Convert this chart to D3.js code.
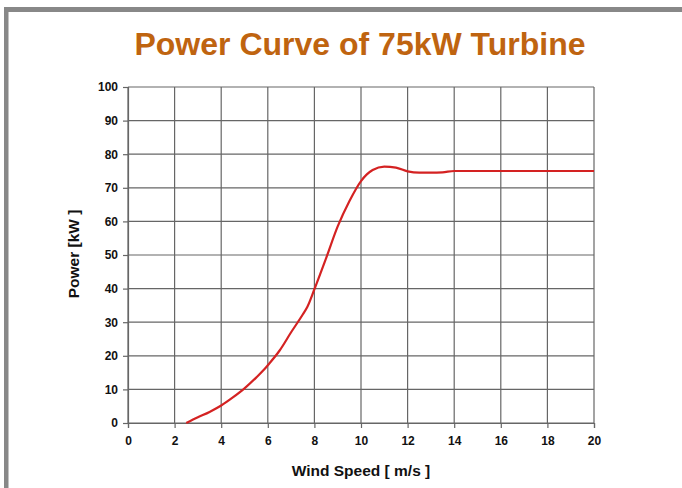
<!DOCTYPE html>
<html><head><meta charset="utf-8">
<script src="https://cdn.jsdelivr.net/npm/d3@7"></script>
<style>
html,body{margin:0;padding:0;background:#fff;}
svg{display:block;}
text{font-family:"Liberation Sans",Arial,sans-serif;}
</style></head>
<body>
<svg id="c" width="682" height="488"></svg>
<script>
const windSpeed = [2.5,3,3.5,4,4.5,5,5.5,5.8,6,6.5,7,7.5,7.7,8,8.5,9,9.5,10,10.25,10.5,11,11.5,12,12.5,13,13.5,14,15,16,17,18,19,20];
const power     = [0,1.7,3.3,5.2,7.6,10.3,13.5,15.6,17.2,21.5,27,32.3,34.6,39.8,49,58.5,66,72,74,75.3,76.3,76,74.9,74.5,74.5,74.6,75,75,75,75,75,75,75];
const xTicks = [0,2,4,6,8,10,12,14,16,18,20];
const yTicks = [0,10,20,30,40,50,60,70,80,90,100];
const title = "Power Curve of 75kW Turbine";
const xLabel = "Wind Speed [ m/s ]";
const yLabel = "Power [kW ]";

const svg = d3.select("#c");
// frame
svg.append("rect").attr("x",4).attr("y",7).attr("width",682).attr("height",5).attr("fill","#888");
svg.append("rect").attr("x",4).attr("y",7).attr("width",4.5).attr("height",488).attr("fill","#888");

const L=128, R=594, T=87, B=423;
const x = d3.scaleLinear().domain([0,20]).range([L,R]);
const y = d3.scaleLinear().domain([0,100]).range([B,T]);

// grid
const g = svg.append("g");
g.selectAll(".vg").data(xTicks).join("line")
  .attr("x1",d=>x(d)).attr("x2",d=>x(d)).attr("y1",T).attr("y2",B)
  .attr("stroke","#666").attr("stroke-width",1.2);
g.selectAll(".hg").data(yTicks).join("line")
  .attr("x1",L).attr("x2",R).attr("y1",d=>y(d)).attr("y2",d=>y(d))
  .attr("stroke","#666").attr("stroke-width",1.2);

// axes
const xAxis = d3.axisBottom(x).tickValues(xTicks).tickSize(5).tickPadding(8);
const yAxis = d3.axisLeft(y).tickValues(yTicks).tickSize(5).tickPadding(5);
const gx = svg.append("g").attr("transform",`translate(0,${B})`).call(xAxis);
const gy = svg.append("g").attr("transform",`translate(${L},0)`).call(yAxis);
[gx,gy].forEach(a=>{
  a.select(".domain").attr("stroke","#666").attr("stroke-width",1.2);
  a.selectAll(".tick line").attr("stroke","#666").attr("stroke-width",1.2);
  a.selectAll(".tick text").attr("fill","#111").style("font-size","12px").style("font-weight","bold")
   .style("font-family","'Liberation Sans',Arial,sans-serif");
});

// curve
const pts = windSpeed.map((w,i)=>[w,power[i]]);
svg.append("path").datum(pts)
  .attr("d", d3.line().x(d=>x(d[0])).y(d=>y(d[1])).curve(d3.curveMonotoneX))
  .attr("fill","none").attr("stroke","#d42222").attr("stroke-width",2.2);

// title & labels
svg.append("text").attr("x",360).attr("y",55).attr("text-anchor","middle")
  .attr("fill","#bf6410").style("font-size","32px").style("font-weight","bold").text(title);
svg.append("text").attr("x",361).attr("y",476).attr("text-anchor","middle")
  .attr("fill","#111").style("font-size","15.5px").style("font-weight","bold").text(xLabel);
svg.append("text").attr("transform","translate(79,254) rotate(-90)").attr("text-anchor","middle")
  .attr("fill","#111").style("font-size","15.5px").style("font-weight","bold").text(yLabel);
</script>
</body></html>
